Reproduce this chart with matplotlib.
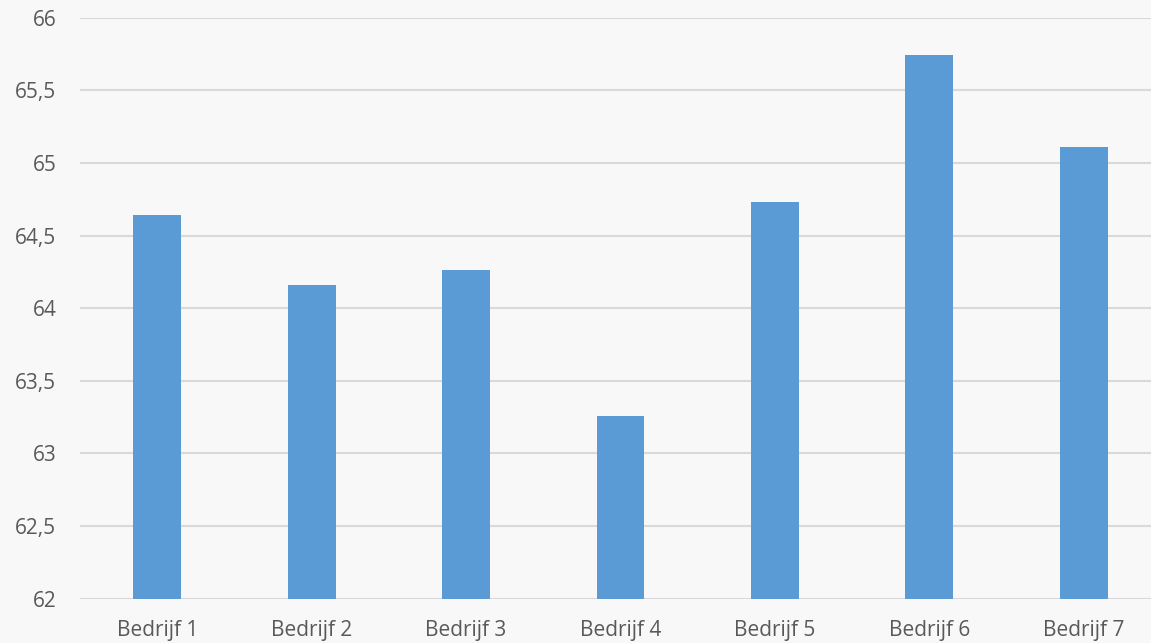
"""Bar chart: score per bedrijf (y-axis 62-66)."""
import matplotlib.pyplot as plt
from matplotlib.ticker import FuncFormatter, MultipleLocator

CATEGORIES = ["Bedrijf 1", "Bedrijf 2", "Bedrijf 3", "Bedrijf 4",
              "Bedrijf 5", "Bedrijf 6", "Bedrijf 7"]
VALUES = [64.64, 64.16, 64.26, 63.26, 64.73, 65.74, 65.11]

BG = "#F8F8F8"
BAR = "#5B9BD5"
TXT = "#595959"
GRID = "#D9D9D9"


def main():
    plt.rcParams["font.family"] = ["Open Sans", "DejaVu Sans"]
    fig = plt.figure(figsize=(11.51, 6.43), dpi=100, facecolor=BG)
    ax = fig.add_axes([80 / 1151, 1 - 598.7 / 643, 1 - 80 / 1151, (598.7 - 17.7) / 643])
    ax.set_facecolor(BG)

    x = range(len(CATEGORIES))
    ax.bar(x, VALUES, width=0.31, color=BAR, zorder=3)

    ax.set_ylim(62, 66)
    ax.set_xlim(-0.5, 6.435)
    ax.yaxis.set_major_locator(MultipleLocator(0.5))
    ax.yaxis.set_major_formatter(FuncFormatter(lambda v, _: f"{v:g}".replace(".", ",")))
    ax.set_xticks(list(x))
    ax.set_xticklabels(CATEGORIES)

    ax.grid(axis="y", color=GRID, lw=1.5, zorder=0)
    for s in ax.spines.values():
        s.set_visible(False)
    ax.tick_params(axis="both", length=0, labelsize=15, colors=TXT)
    ax.tick_params(axis="y", pad=17)
    ax.tick_params(axis="x", pad=15)

    fig.savefig("out.png", facecolor=BG)


if __name__ == "__main__":
    main()
